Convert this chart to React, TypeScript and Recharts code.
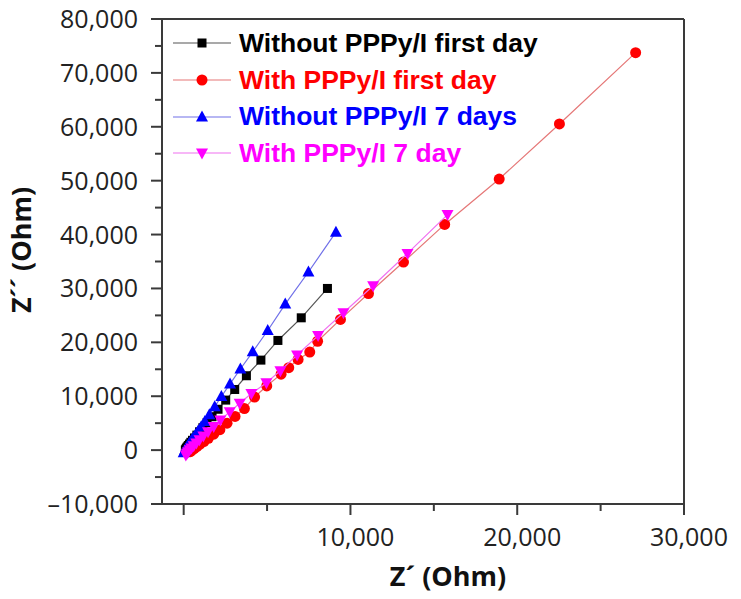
import React from "react";
import { ScatterChart, Scatter, XAxis, YAxis, ReferenceLine } from "recharts";

// Z' (x) and Z'' (y) in Ohm
const withoutFirstDay = [
  { x: 8620, y: 30000 }, { x: 7050, y: 24550 }, { x: 5650, y: 20350 }, { x: 4630, y: 16700 },
  { x: 3760, y: 13800 }, { x: 3060, y: 11250 }, { x: 2520, y: 9280 }, { x: 2060, y: 7580 },
  { x: 1700, y: 6200 }, { x: 1400, y: 5080 }, { x: 1150, y: 4150 }, { x: 950, y: 3400 },
  { x: 790, y: 2780 }, { x: 650, y: 2260 }, { x: 530, y: 1820 }, { x: 430, y: 1450 },
  { x: 350, y: 1130 }, { x: 280, y: 850 }, { x: 220, y: 600 }, { x: 170, y: 380 },
  { x: 130, y: 180 }, { x: 100, y: 0 },
];

const withFirstDay = [
  { x: 27100, y: 73750 }, { x: 22530, y: 60520 }, { x: 18920, y: 50300 }, { x: 15650, y: 41880 },
  { x: 13180, y: 34900 }, { x: 11080, y: 29050 }, { x: 9400, y: 24250 }, { x: 8030, y: 20200 },
  { x: 7560, y: 18200 }, { x: 6860, y: 16830 }, { x: 6300, y: 15300 }, { x: 5840, y: 14100 },
  { x: 4980, y: 11900 }, { x: 4250, y: 9850 }, { x: 3640, y: 7700 }, { x: 3080, y: 6250 },
  { x: 2600, y: 5000 }, { x: 2170, y: 3800 }, { x: 1800, y: 2950 }, { x: 1480, y: 2200 },
  { x: 1210, y: 1600 }, { x: 980, y: 1100 }, { x: 790, y: 650 }, { x: 630, y: 300 },
  { x: 500, y: 0 }, { x: 400, y: -300 },
];

const withoutSevenDays = [
  { x: 9130, y: 40450 }, { x: 7480, y: 33050 }, { x: 6090, y: 27100 }, { x: 5040, y: 22200 },
  { x: 4140, y: 18240 }, { x: 3400, y: 15050 }, { x: 2780, y: 12280 }, { x: 2260, y: 9950 },
  { x: 1860, y: 8060 }, { x: 1540, y: 6560 }, { x: 1270, y: 5330 }, { x: 1050, y: 4330 },
  { x: 860, y: 3520 }, { x: 710, y: 2860 }, { x: 580, y: 2300 }, { x: 470, y: 1830 },
  { x: 380, y: 1420 }, { x: 300, y: 1060 }, { x: 230, y: 730 }, { x: 170, y: 430 },
  { x: 110, y: 150 }, { x: 60, y: -150 }, { x: 0, y: -500 },
];

const withSevenDay = [
  { x: 15820, y: 43700 }, { x: 13420, y: 36500 }, { x: 11360, y: 30500 }, { x: 9580, y: 25500 },
  { x: 8060, y: 21250 }, { x: 6800, y: 17650 }, { x: 5800, y: 14750 }, { x: 4960, y: 12500 },
  { x: 4060, y: 10500 }, { x: 3360, y: 8700 }, { x: 2760, y: 7100 }, { x: 2200, y: 5600 },
  { x: 1800, y: 4400 }, { x: 1460, y: 3400 }, { x: 1180, y: 2600 }, { x: 950, y: 1900 },
  { x: 760, y: 1300 }, { x: 600, y: 800 }, { x: 470, y: 400 }, { x: 360, y: 50 },
  { x: 270, y: -300 }, { x: 200, y: -600 }, { x: 130, y: -900 },
];

const xTicks = [0, 5000, 10000, 15000, 20000, 25000, 30000];
const xLabelled = [10000, 20000, 30000];
const yTicks = [
  -10000, -5000, 0, 5000, 10000, 15000, 20000, 25000, 30000, 35000, 40000, 45000, 50000, 55000,
  60000, 65000, 70000, 75000, 80000,
];
const yLabelled = [-10000, 0, 10000, 20000, 30000, 40000, 50000, 60000, 70000, 80000];

const SERIES = [
  { name: "Without PPPy/I first day", data: withoutFirstDay, color: "#000000", line: "#555555", shape: "square" },
  { name: "With PPPy/I first day", data: withFirstDay, color: "#ff0000", line: "#e57777", shape: "circle" },
  { name: "Without PPPy/I 7 days", data: withoutSevenDays, color: "#0000ff", line: "#7070e8", shape: "up" },
  { name: "With PPPy/I 7 day", data: withSevenDay, color: "#ff00ff", line: "#f070f0", shape: "down" },
];

const AXIS = "#3a3a3a";
const TICK_FONT = "'Open Sans', sans-serif";

const fmt = (v: number) => (v < 0 ? "–" : "") + Math.abs(v).toLocaleString("en-US");

function Marker({ shape, cx, cy, color }: any) {
  if (cx == null || cy == null) return null;
  if (shape === "square") return <rect x={cx - 4.5} y={cy - 4.5} width={9} height={9} fill={color} />;
  if (shape === "circle") return <circle cx={cx} cy={cy} r={5.5} fill={color} />;
  if (shape === "up")
    return <polygon points={`${cx},${cy - 6.5} ${cx + 6},${cy + 4.5} ${cx - 6},${cy + 4.5}`} fill={color} />;
  return <polygon points={`${cx},${cy + 6.5} ${cx + 6},${cy - 4.5} ${cx - 6},${cy - 4.5}`} fill={color} />;
}

function YTick({ x, y, payload }: any) {
  const major = yLabelled.includes(payload.value);
  return (
    <g>
      <line x1={x - (major ? 11 : 7)} x2={x} y1={y} y2={y} stroke={AXIS} strokeWidth={2} />
      {major && (
        <text x={x - 24} y={y + 9} textAnchor="end" fontSize={25} fontFamily={TICK_FONT} fill="#222">
          {fmt(payload.value)}
        </text>
      )}
    </g>
  );
}

function XTick({ x, y, payload }: any) {
  const major = payload.value % 10000 === 0;
  return (
    <g>
      <line x1={x} x2={x} y1={y} y2={y + (major ? 11 : 7)} stroke={AXIS} strokeWidth={2} />
      {xLabelled.includes(payload.value) && (
        <text x={x + 5} y={y + 42} textAnchor="middle" fontSize={25} fontFamily={TICK_FONT} fill="#222">
          {fmt(payload.value)}
        </text>
      )}
    </g>
  );
}

function LegendBox() {
  return (
    <div style={{ position: "absolute", left: 173, top: 25, fontFamily: "'Liberation Sans', Arial, sans-serif" }}>
      {SERIES.map((s) => (
        <div key={s.name} style={{ display: "flex", alignItems: "center", height: 36.7 }}>
          <svg width={66} height={20}>
            <line x1={0} x2={58} y1={10} y2={10} stroke={s.line} strokeWidth={1.2} />
            <Marker shape={s.shape} cx={29} cy={10} color={s.color} />
          </svg>
          <span style={{ color: s.color, fontWeight: 700, fontSize: 26.5, whiteSpace: "nowrap" }}>{s.name}</span>
        </div>
      ))}
    </div>
  );
}

export default function App() {
  return (
    <div style={{ position: "absolute", left: 0, top: 0, width: 741, height: 599, background: "#fff" }}>
      <ScatterChart width={741} height={599} margin={{ top: 19, right: 57, bottom: 0, left: 0 }}>
        <XAxis
          type="number"
          dataKey="x"
          domain={[-1300, 30000]}
          ticks={xTicks}
          interval={0}
          height={95}
          tickSize={0}
          tickMargin={0}
          tickLine={false}
          tick={<XTick />}
          axisLine={{ stroke: AXIS, strokeWidth: 2 }}
          allowDataOverflow
          label={{
            content: () => (
              <text x={448} y={586} textAnchor="middle" fontSize={27} fontWeight={700} fontFamily={TICK_FONT} fill="#111">
                Z´ (Ohm)
              </text>
            ),
          }}
        />
        <YAxis
          type="number"
          dataKey="y"
          domain={[-10000, 80000]}
          ticks={yTicks}
          interval={0}
          width={162}
          tickSize={0}
          tickMargin={0}
          tickLine={false}
          tick={<YTick />}
          axisLine={{ stroke: AXIS, strokeWidth: 2 }}
          allowDataOverflow
          label={{
            content: () => (
              <text
                x={31}
                y={250}
                transform="rotate(-90 31 250)"
                textAnchor="middle"
                fontSize={27}
                fontWeight={700}
                fontFamily={TICK_FONT}
                fill="#111"
              >
                Z´´ (Ohm)
              </text>
            ),
          }}
        />
        <ReferenceLine y={80000} stroke={AXIS} strokeWidth={2} />
        <ReferenceLine x={30000} stroke={AXIS} strokeWidth={2} />
        {SERIES.map((s) => (
          <Scatter
            key={s.name}
            name={s.name}
            data={s.data}
            fill={s.color}
            line={{ stroke: s.line, strokeWidth: 1.2 }}
            shape={(p: any) => <Marker shape={s.shape} cx={p.cx} cy={p.cy} color={s.color} />}
            isAnimationActive={false}
          />
        ))}
      </ScatterChart>
      <LegendBox />
    </div>
  );
}
